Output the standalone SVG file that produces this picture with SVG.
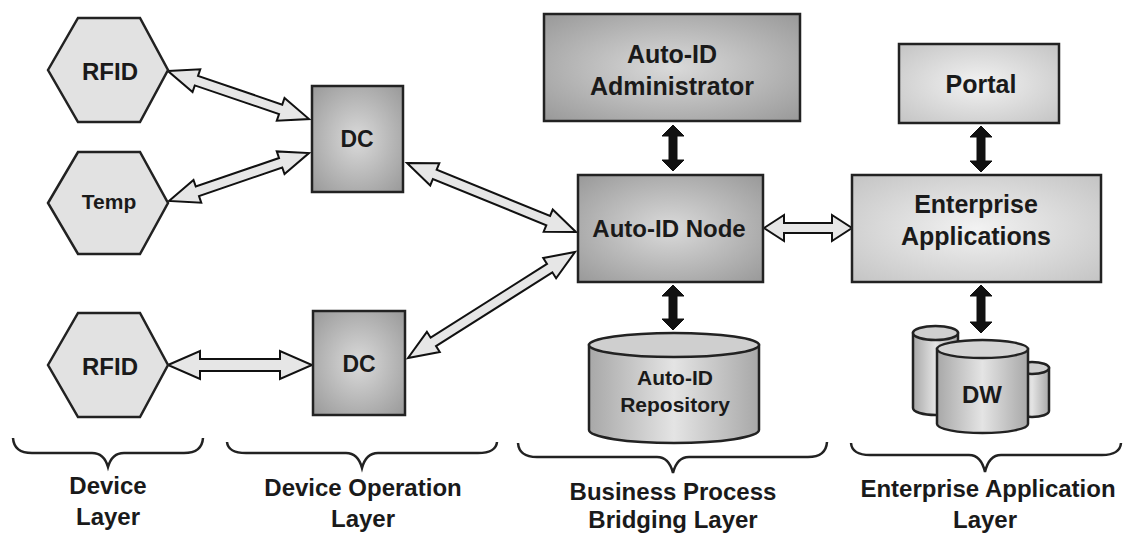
<svg xmlns="http://www.w3.org/2000/svg" width="1133" height="536" viewBox="0 0 1133 536">
<style>
  .t{font-family:"Liberation Sans",Arial,sans-serif;font-weight:bold;fill:#1a1a1a;text-anchor:middle}
  .box{stroke:#222;stroke-width:2.5}
  .hex{fill:#e2e2e2;stroke:#222;stroke-width:2.5}
  .harrow{fill:#e6e6e6;stroke:#111;stroke-width:2;stroke-linejoin:miter}
  .barrow{fill:#111;stroke:#111;stroke-width:1}
  .brace{fill:none;stroke:#222;stroke-width:2.5}
</style>
<defs>
  <radialGradient id="gDark" cx="50%" cy="50%" r="70%">
    <stop offset="0" stop-color="#dadada"/>
    <stop offset="1" stop-color="#999"/>
  </radialGradient>
  <radialGradient id="gLight" cx="50%" cy="50%" r="70%">
    <stop offset="0" stop-color="#f2f2f2"/>
    <stop offset="1" stop-color="#c4c4c4"/>
  </radialGradient>
  <linearGradient id="gCyl" x1="0" y1="0" x2="1" y2="0">
    <stop offset="0" stop-color="#a8a8a8"/>
    <stop offset="0.5" stop-color="#e4e4e4"/>
    <stop offset="1" stop-color="#a8a8a8"/>
  </linearGradient>
</defs>
<rect width="1133" height="536" fill="#fff"/>

<g id="connectors">
  <path class="harrow" transform="translate(168,71) rotate(18.8)" d="M0,0 L30,-12 L30,-5 L119,-5 L119,-12 L149,0 L119,12 L119,5 L30,5 L30,12 Z"/>
  <path class="harrow" transform="translate(169,201) rotate(-18.9)" d="M0,0 L30,-12 L30,-5 L118,-5 L118,-12 L148,0 L118,12 L118,5 L30,5 L30,12 Z"/>
  <path class="harrow" transform="translate(168,365)" d="M0,0 L32,-14 L32,-6 L112,-6 L112,-14 L144,0 L112,14 L112,6 L32,6 L32,14 Z"/>
  <path class="harrow" transform="translate(407,163) rotate(22.2)" d="M0,0 L30,-12 L30,-5 L152.5,-5 L152.5,-12 L182.5,0 L152.5,12 L152.5,5 L30,5 L30,12 Z"/>
  <path class="harrow" transform="translate(408,358) rotate(-32.4)" d="M0,0 L30,-12 L30,-5 L167.8,-5 L167.8,-12 L197.8,0 L167.8,12 L167.8,5 L30,5 L30,12 Z"/>
  <path class="harrow" transform="translate(764,228)" d="M0,0 L20,-13 L20,-5 L68,-5 L68,-13 L88,0 L68,13 L68,5 L20,5 L20,13 Z"/>
  <polygon class="barrow" points="673,125 684,136 677,136 677,160 684,160 673,171 662,160 669,160 669,136 662,136"/>
  <polygon class="barrow" points="673,285 684,296 677,296 677,319 684,319 673,330 662,319 669,319 669,296 662,296"/>
  <polygon class="barrow" points="981,126 992,137 985,137 985,161 992,161 981,172 970,161 977,161 977,137 970,137"/>
  <polygon class="barrow" points="981,285 992,296 985,296 985,322 992,322 981,333 970,322 977,322 977,296 970,296"/>
</g>

<g id="rfid1">
  <polygon class="hex" points="48,70 78,18 140,18 168,70 140,122 78,122"/>
  <text class="t" x="110" y="80" font-size="24">RFID</text>
</g>
<g id="temp">
  <polygon class="hex" points="48,203 78,152 140,152 168,203 140,254 78,254"/>
  <text class="t" x="109" y="209" font-size="21">Temp</text>
</g>
<g id="rfid2">
  <polygon class="hex" points="48,365 78,313 140,313 168,365 140,417 78,417"/>
  <text class="t" x="110" y="375" font-size="24">RFID</text>
</g>
<g id="dc1">
  <rect class="box" x="312" y="86" width="91" height="106" fill="url(#gDark)"/>
  <text class="t" x="357" y="147" font-size="23">DC</text>
</g>
<g id="dc2">
  <rect class="box" x="313" y="311" width="92" height="104" fill="url(#gDark)"/>
  <text class="t" x="359" y="372" font-size="23">DC</text>
</g>
<g id="admin">
  <rect class="box" x="544" y="14" width="256" height="107" fill="url(#gDark)"/>
  <text class="t" x="672" y="63" font-size="25">Auto-ID</text>
  <text class="t" x="672" y="95" font-size="25">Administrator</text>
</g>
<g id="node">
  <rect class="box" x="578" y="175" width="185" height="107" fill="url(#gDark)"/>
  <text class="t" x="669" y="237" font-size="24">Auto-ID Node</text>
</g>
<g id="repository">
  <path class="box" d="M589,345 L589,430 A85,13 0 0 0 759,430 L759,345 Z" fill="url(#gCyl)"/>
  <ellipse class="box" cx="674" cy="345" rx="85" ry="12" fill="#cfcfcf"/>
  <text class="t" x="675" y="385" font-size="21">Auto-ID</text>
  <text class="t" x="675" y="412" font-size="21">Repository</text>
</g>
<g id="portal">
  <rect class="box" x="899" y="44" width="160" height="79" fill="url(#gLight)"/>
  <text class="t" x="981" y="93" font-size="25">Portal</text>
</g>
<g id="enterprise">
  <rect class="box" x="852" y="175" width="249" height="107" fill="url(#gLight)"/>
  <text class="t" x="976" y="213" font-size="25">Enterprise</text>
  <text class="t" x="976" y="245" font-size="25">Applications</text>
</g>
<g id="dw">
  <path class="box" d="M913,333 L913,408 A22.5,7 0 0 0 958,408 L958,333 Z" fill="url(#gCyl)"/>
  <ellipse class="box" cx="935.5" cy="333" rx="22.5" ry="7" fill="#cfcfcf"/>
  <path class="box" d="M1015,368 L1015,411 A17,6 0 0 0 1049,411 L1049,368 Z" fill="url(#gCyl)"/>
  <ellipse class="box" cx="1032" cy="368" rx="17" ry="6" fill="#cfcfcf"/>
  <path class="box" d="M937,349 L937,424 A45.5,9 0 0 0 1028,424 L1028,349 Z" fill="url(#gCyl)"/>
  <ellipse class="box" cx="982.5" cy="349" rx="45.5" ry="9" fill="#d4d4d4"/>
  <text class="t" x="982" y="403" font-size="24">DW</text>
</g>

<g id="layer-device">
  <path class="brace" d="M13,438 Q14,453 32,453 L92,453 Q104,453 108,467 Q112,453 124,453 L184,453 Q202,453 203,438"/>
  <text class="t" x="108" y="494" font-size="24">Device</text>
  <text class="t" x="108" y="525" font-size="24">Layer</text>
</g>
<g id="layer-device-operation">
  <path class="brace" d="M227,442 Q228,453 246,453 L346,453 Q358,453 362,468 Q366,453 378,453 L478,453 Q496,453 497,442"/>
  <text class="t" x="363" y="496" font-size="24">Device Operation</text>
  <text class="t" x="363" y="527" font-size="24">Layer</text>
</g>
<g id="layer-business">
  <path class="brace" d="M518,443 Q519,457 537,457 L657,457 Q669,457 673,473 Q677,457 689,457 L808,457 Q826,457 827,442"/>
  <text class="t" x="673" y="500" font-size="24">Business Process</text>
  <text class="t" x="673" y="528" font-size="24">Bridging Layer</text>
</g>
<g id="layer-enterprise">
  <path class="brace" d="M851,443 Q852,455 870,455 L969,455 Q981,455 985,472 Q989,455 1001,455 L1102,455 Q1120,455 1121,443"/>
  <text class="t" x="988" y="497" font-size="24">Enterprise Application</text>
  <text class="t" x="985" y="528" font-size="24">Layer</text>
</g>
</svg>
